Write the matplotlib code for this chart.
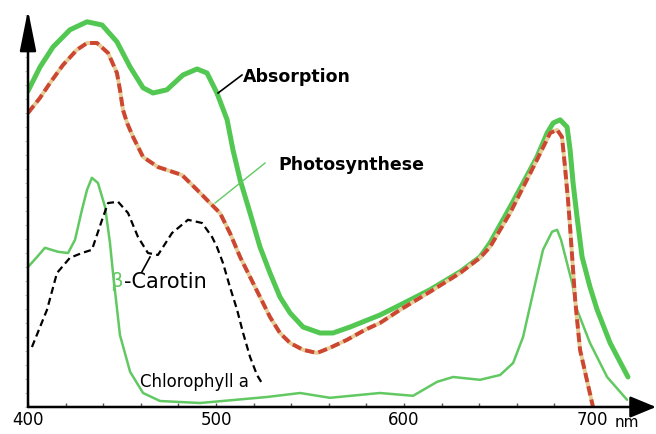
import matplotlib
matplotlib.use("Agg")
import matplotlib.pyplot as plt
from matplotlib.ticker import MultipleLocator, NullFormatter

# Absorption spectrum of a leaf (thick green)
abs_nm = [400.0, 406.4, 413.3, 422.3, 431.4, 439.4, 447.3, 454.3, 461.2, 466.5,
          473.9, 482.4, 489.9, 495.2, 500.5, 505.9, 509.0, 512.8, 518.1, 523.4,
          528.7, 534.0, 539.4, 546.3, 555.3, 562.2, 571.3, 587.2, 597.9, 613.8,
          629.8, 640.4, 645.7, 656.4, 663.3, 670.7, 676.1, 679.3, 683.0, 686.7,
          688.3, 689.9, 692.0, 694.7, 698.9, 702.7, 709.6, 719.1]
abs_val = [79.0, 85.0, 90.0, 94.3, 96.3, 95.5, 91.3, 85.0, 79.8, 78.5,
           79.3, 83.0, 84.5, 83.5, 78.5, 71.8, 64.3, 56.8, 48.5, 40.0,
           33.5, 27.5, 23.5, 20.0, 18.5, 18.5, 20.0, 23.0, 25.5, 29.3,
           33.8, 37.5, 41.0, 50.0, 56.0, 62.5, 68.5, 71.0, 71.8, 70.0,
           64.3, 56.0, 47.5, 37.5, 30.0, 24.3, 16.0, 7.5]

# Action spectrum of photosynthesis (red dashed)
ps_nm = [400.0, 406.4, 411.7, 418.6, 426.0, 431.4, 436.7, 442.6, 447.3, 448.9,
         450.5, 452.7, 455.9, 461.2, 469.1, 481.9, 489.9, 496.8, 502.1, 507.4,
         512.8, 518.1, 523.4, 528.7, 534.0, 539.4, 546.3, 553.7, 560.6, 569.7,
         579.3, 587.2, 597.9, 613.8, 629.8, 640.4, 645.7, 656.4, 670.7, 677.7,
         681.4, 684.0, 685.6, 687.2, 688.3, 691.0, 693.6, 700.5]
ps_val = [73.5, 77.3, 81.0, 85.5, 89.3, 91.0, 91.0, 88.5, 83.5, 79.3,
          74.3, 71.0, 67.5, 62.5, 60.0, 58.0, 54.3, 51.0, 48.5, 43.5,
          37.5, 32.5, 27.5, 22.5, 18.5, 16.0, 14.3, 13.5, 14.8, 16.8,
          19.3, 21.0, 24.3, 28.8, 33.5, 37.3, 40.0, 48.5, 61.8, 68.5,
          69.3, 67.5, 60.0, 51.8, 45.0, 26.8, 14.3, 0.0]

# beta-carotene (black dashed)
car_nm = [402.1, 410.1, 415.4, 422.3, 428.7, 434.0, 439.4, 442.6, 447.9, 453.2,
          458.5, 463.8, 469.1, 476.6, 485.1, 492.6, 497.9, 500.5, 503.7, 507.4,
          511.2, 514.4, 518.1, 521.8, 525.0]
car_val = [15.0, 24.3, 33.5, 37.3, 38.5, 39.3, 46.8, 51.0, 51.3, 48.5,
           42.5, 38.5, 38.0, 43.5, 46.8, 46.0, 42.5, 40.0, 36.0, 30.0,
           24.3, 18.5, 12.5, 8.0, 5.5]

# Chlorophyll a (thin green)
chl_nm = [400.0, 404.8, 409.0, 416.0, 421.3, 425.0, 428.7, 431.4, 434.0, 437.2,
          441.0, 443.6, 445.2, 448.9, 454.3, 461.2, 470.2, 491.5, 527.1, 544.7,
          560.6, 587.2, 604.8, 617.6, 626.1, 640.4, 651.1, 658.0, 663.3, 668.6,
          673.9, 678.7, 681.4, 683.5, 689.4, 692.0, 698.9, 708.0, 718.6]
chl_val = [35.0, 37.5, 39.8, 38.8, 38.5, 41.8, 49.3, 54.3, 57.3, 56.0,
           50.0, 41.0, 33.5, 18.0, 8.8, 3.5, 1.5, 1.0, 2.5, 3.5,
           2.3, 3.5, 2.8, 6.3, 7.5, 6.8, 8.0, 11.0, 17.5, 28.5,
           39.3, 43.8, 44.3, 41.8, 31.0, 24.3, 16.0, 7.5, 1.8]

tick_vals = [400, 500, 600, 700]
tick_labels = ["400", "500", "600", "700"]

GREEN = "#52c852"
GREEN_THIN = "#62c962"
RED = "#cc4632"
TAN = "#e6cd98"

fig = plt.figure(figsize=(6.56, 4.34), dpi=100)
ax = fig.add_axes([28 / 656, 27 / 434, 628 / 656, 397 / 434])
ax.set_xlim(400, 734)
ax.set_ylim(0, 99.25)
for s in ax.spines.values():
    s.set_visible(False)

# curves
ax.plot(chl_nm, chl_val, color=GREEN_THIN, lw=1.8, solid_joinstyle="round",
        solid_capstyle="round", zorder=2)
ax.plot(car_nm, car_val, color="black", lw=1.6, dashes=(3.2, 1.9), zorder=3)
ax.plot(abs_nm, abs_val, color=GREEN, lw=3.6, solid_joinstyle="round",
        solid_capstyle="round", zorder=4)
ax.plot(ps_nm, ps_val, color=TAN, lw=2.8, solid_joinstyle="round", zorder=5)
ax.plot(ps_nm, ps_val, color=RED, lw=2.8, dashes=(2.4, 1.1), zorder=6)

# axes with arrow heads
ax.annotate("", xy=(1, 0), xytext=(0, 0), xycoords="axes fraction",
            arrowprops=dict(arrowstyle="-|>,head_length=0.8,head_width=0.33",
                            mutation_scale=20, lw=1.8, color="black",
                            shrinkA=0, shrinkB=0), zorder=8)
ax.annotate("", xy=(0, 1), xytext=(0, 0), xycoords="axes fraction",
            arrowprops=dict(arrowstyle="-|>,head_length=1.25,head_width=0.25",
                            mutation_scale=20, lw=1.8, color="black",
                            shrinkA=0, shrinkB=0), zorder=8)

# ticks
ax.set_xticks(tick_vals)
ax.set_xticklabels(tick_labels)
ax.xaxis.set_minor_locator(MultipleLocator(20))
ax.tick_params(axis="x", which="both", direction="in", length=3, width=1,
               color="#555555", pad=3, labelsize=12)
ax.yaxis.set_major_locator(MultipleLocator(3.5))
ax.yaxis.set_major_formatter(NullFormatter())
ax.tick_params(axis="y", which="both", direction="out", length=2, width=0.8,
               color="#bbbbbb")
ax.text(712, -3.8, "nm", fontsize=11, ha="left", va="center", clip_on=False)

# labels with leader lines
ax.plot([501.1, 513.8], [78.5, 83.0], color="black", lw=1.2, zorder=7)
ax.text(514.4, 82.5, "Absorption", fontsize=12.5, fontweight="bold",
        ha="left", va="center", zorder=9)
ax.plot([499.5, 526.1], [51.0, 61.0], color=GREEN_THIN, lw=1.0, zorder=7)
ax.text(533.0, 60.5, "Photosynthese", fontsize=12.5, fontweight="bold",
        ha="left", va="center", zorder=9)
ax.plot([464.9, 460.6], [37.5, 33.8], color="black", lw=1.2, zorder=7)
ax.text(443.6, 31.3, "\u03b2", fontsize=14, color=GREEN_THIN,
        ha="left", va="center", zorder=9)
ax.text(451.0, 31.3, "-Carotin", fontsize=15, ha="left", va="center", zorder=9)
ax.text(459.6, 6.3, "Chlorophyll a", fontsize=12, ha="left", va="center",
        zorder=9)

fig.savefig("out.png", dpi=100)
